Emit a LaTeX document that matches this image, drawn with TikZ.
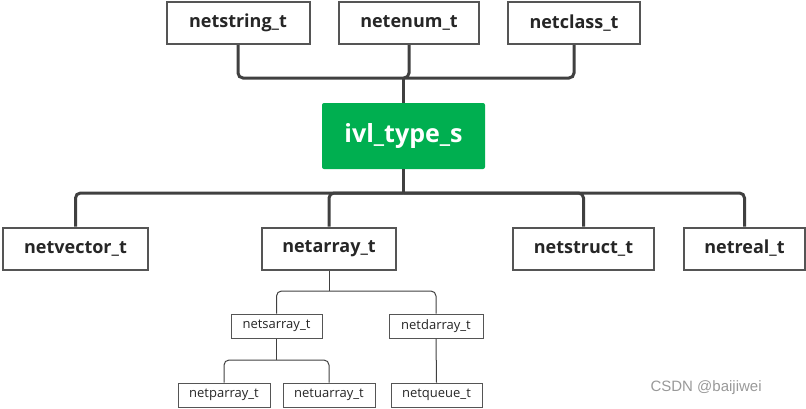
\documentclass[tikz,border=0pt]{standalone}
\usepackage{fontspec}
\setmainfont{Open Sans}[BoldFont={Open Sans Bold}]
\newfontfamily\markfont{Liberation Sans}
\usetikzlibrary{positioning}
\definecolor{tyGreen}{HTML}{00AF50}
\definecolor{tyLine}{HTML}{404040}
\definecolor{tyBorder}{HTML}{555555}
\definecolor{tyText}{HTML}{262626}
\tikzset{
    bigbox/.style={
        draw=tyBorder,line width=2pt,fill=white,
        minimum height=42pt,inner sep=0pt,
        font=\fontsize{18}{21}\selectfont\bfseries,text=tyText
    },
    smallbox/.style={
        draw=tyBorder,line width=1pt,fill=white,
        minimum height=24pt,inner sep=0pt,
        font=\fontsize{13}{15}\selectfont,text=tyText
    },
    rootbox/.style={
        fill=tyGreen,rounded corners=2pt,
        minimum width=163pt,minimum height=66pt,
        font=\fontsize{25}{29}\selectfont\bfseries,text=white
    },
    trunk/.style={draw=tyLine,line width=3pt,rounded corners=5pt},
    twig/.style={draw=tyLine,line width=1pt,rounded corners=5pt}
}
\begin{document}
\begin{tikzpicture}[x=1pt,y=-1pt]
\useasboundingbox (0,0) rectangle (806,408);

% top row
\node[bigbox,minimum width=143pt] (str) at (238,23){netstring\_t};
\node[bigbox,minimum width=140pt] (enm) at (409,23){netenum\_t};
\node[bigbox,minimum width=132pt] (cls) at (574,23){netclass\_t};

\node[rootbox] (root) at (403.5,136){ivl\_type\_s};

% second row
\node[bigbox,minimum width=145pt] (vec) at (75.5,248.5){netvector\_t};
\node[bigbox,minimum width=134pt] (arr) at (329,248.5){netarray\_t};
\node[bigbox,minimum width=141pt] (sct) at (583.5,248.5){netstruct\_t};
\node[bigbox,minimum width=121pt] (rea) at (744.5,248.5){netreal\_t};

% arrays
\node[smallbox,minimum width=91pt] (sarr) at (276.5,326){netsarray\_t};
\node[smallbox,minimum width=94pt] (darr) at (436,326){netdarray\_t};
\node[smallbox,minimum width=92pt] (parr) at (224,395){netparray\_t};
\node[smallbox,minimum width=92pt] (uarr) at (329,395){netuarray\_t};
\node[smallbox,minimum width=91pt] (que) at (436.5,395){netqueue\_t};

\coordinate (topbar) at (403.5,78);
\coordinate (midbar) at (403.5,193);
\coordinate (arrbar) at (329,291);
\coordinate (sarrbar) at (276.5,360);

\draw[trunk] (str.south) |- (topbar) -| (cls.south);
\draw[trunk] (enm.south) |- (topbar);
\draw[trunk] (topbar) -- (root.north);

\draw[trunk] (root.south) -- (midbar);
\draw[trunk] (vec.north) |- (midbar) -| (rea.north);
\draw[trunk] (arr.north) |- (midbar);
\draw[trunk] (sct.north) |- (midbar);

\draw[twig] (arr.south) -- (arrbar);
\draw[twig] (sarr.north) |- (arrbar) -| (darr.north);
\draw[twig] (sarr.south) -- (sarrbar);
\draw[twig] (parr.north) |- (sarrbar) -| (uarr.north);
\draw[twig] (darr.south) -- (que.north);

\node[font=\markfont\fontsize{15}{17}\selectfont,text=black!40,anchor=west]
(mark) at (647,388){CSDN @baijiwei};

\end{tikzpicture}
\end{document}
